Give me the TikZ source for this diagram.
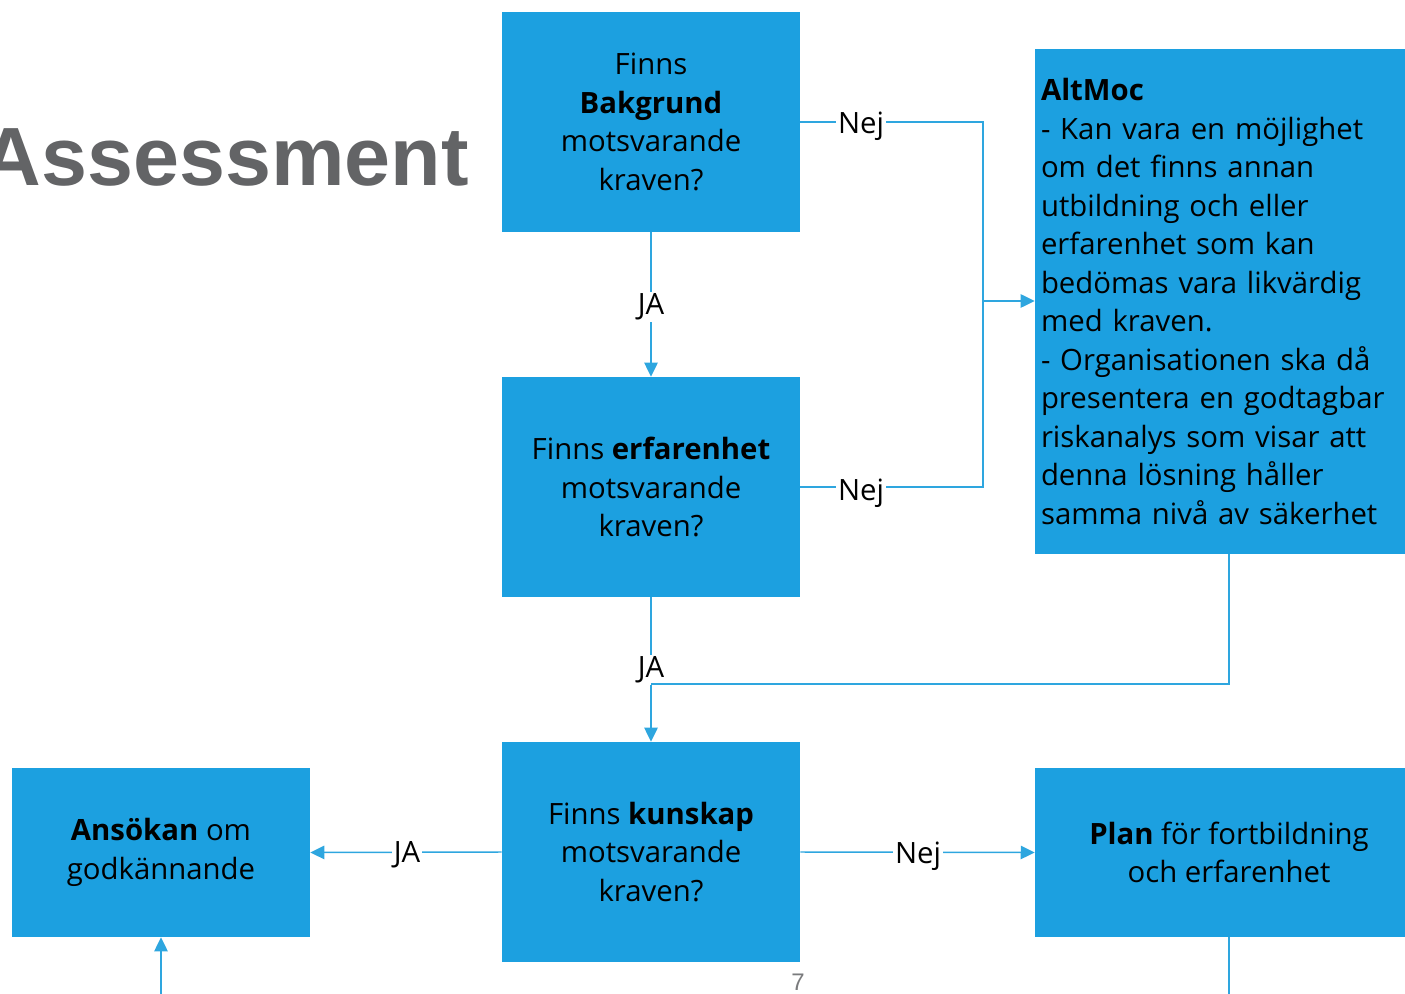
\documentclass[tikz,border=0pt]{standalone}
\usepackage{fontspec}
\setmainfont{Open Sans}
\newfontfamily\titlefont{Liberation Sans}
\usetikzlibrary{arrows.meta}
\definecolor{boxblue}{HTML}{1CA0E0}
\definecolor{lineblue}{HTML}{2EA6DF}
\definecolor{titlegray}{HTML}{636466}
\newcommand{\bodyfont}{\fontsize{22pt}{28.9pt}\selectfont}
\begin{document}
\begin{tikzpicture}[x=0.75pt,y=-0.75pt,
  box/.style={fill=boxblue, draw=none, align=center, font=\bodyfont, text=black, inner sep=0pt},
  conn/.style={draw=lineblue, line width=1.1pt},
  arr/.style={conn, -{Triangle[length=10.5pt,width=10pt]}},
  lab/.style={fill=white, inner sep=1.5pt, font=\bodyfont, text=black}]
\useasboundingbox (0,0) rectangle (1405,994);
\clip (0,0) rectangle (1405,994);

% title
\node[anchor=base east, inner sep=0pt, text=titlegray, font=\titlefont\bfseries\fontsize{62pt}{70pt}\selectfont] (title) at (469,186) {Assessment};

% boxes
\node[box, minimum width=223.5pt, minimum height=165pt] (b1) at (651,122)
  {Finns\\\textbf{Bakgrund}\\motsvarande\\kraven?};
\node[box, minimum width=223.5pt, minimum height=165pt] (b2) at (651,487)
  {Finns \textbf{erfarenhet}\\motsvarande\\kraven?};
\node[box, minimum width=223.5pt, minimum height=165pt] (b3) at (651,852)
  {Finns \textbf{kunskap}\\motsvarande\\kraven?};
\node[box, minimum width=223.5pt, minimum height=126.75pt] (ans) at (161,852.5)
  {\textbf{Ansökan} om\\godkännande};
\node[box, minimum width=291pt, minimum height=126.75pt] (plan) at (1229,852.5)
  {\textbf{Plan} för fortbildning\\och erfarenhet};
\node[box, align=left, text width=282pt, inner xsep=4.5pt, minimum height=378.75pt] (alt) at (1229,301.5)
  {\textbf{AltMoc}\\- Kan vara en möjlighet\\om det finns annan\\utbildning och eller\\erfarenhet som kan\\bedömas vara likvärdig\\med kraven.\\- Organisationen ska då\\presentera en godtagbar\\riskanalys som visar att\\denna lösning håller\\samma nivå av säkerhet};

% connectors
\coordinate (j1) at (983,301);
\coordinate (m1) at (651,684);
\coordinate (bl) at (161,994);
\coordinate (br) at (1229,994);

\draw[conn] (b1.east) -| (j1);
\draw[conn] (b2.east) -| (j1);
\draw[arr] (j1) -- (alt.west |- j1);
\node[lab] (n1) at (861,126) {Nej};
\node[lab] (n2) at (861,493) {Nej};

\draw[arr] (b1.south) -- (b2.north);
\node[lab] (ja1) at (651,307) {JA};

\draw[arr] (b2.south) -- (b3.north);
\node[lab] (ja2) at (651,670) {JA};
\draw[conn] (alt.south) |- (m1);

\draw[arr] (b3.west) -- (ans.east);
\node[lab] (ja3) at (407,855) {JA};

\draw[arr] (b3.east) -- (plan.west);
\node[lab] (n3) at (918,856) {Nej};

\draw[arr] (bl) -- (ans.south);
\draw[conn] (plan.south) -- (br);

% page number
\node[inner sep=0pt, anchor=base, text=titlegray!85, font=\titlefont\fontsize{18pt}{20pt}\selectfont] (pg) at (798,990) {7};
\end{tikzpicture}
\end{document}
